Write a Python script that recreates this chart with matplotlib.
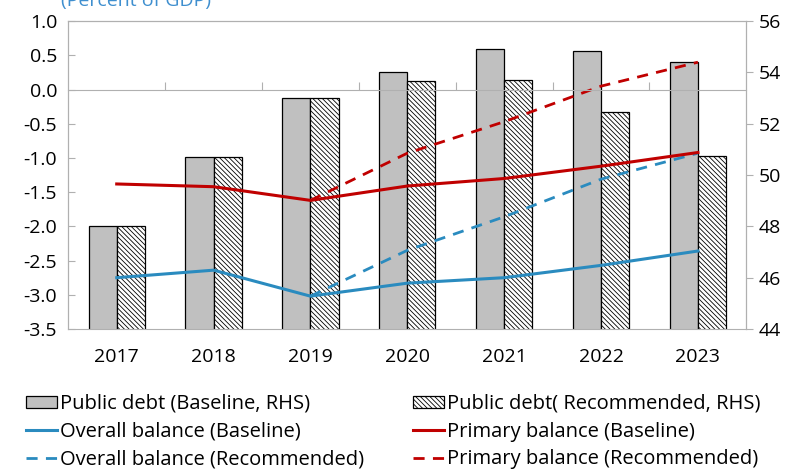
import matplotlib
matplotlib.use("Agg")
import matplotlib.pyplot as plt
import numpy as np

plt.rcParams['font.family'] = ['Open Sans', 'DejaVu Sans']
plt.rcParams['hatch.color'] = '#b4b4b4'
plt.rcParams['hatch.linewidth'] = 0.6

years = ['2017', '2018', '2019', '2020', '2021', '2022', '2023']
debt_base = [48.0, 50.7, 53.0, 54.0, 54.9, 54.85, 54.4]
debt_rec = [48.0, 50.7, 53.0, 53.65, 53.7, 52.45, 50.75]
overall_base = [-2.75, -2.64, -3.02, -2.83, -2.75, -2.57, -2.36]
primary_base = [-1.38, -1.42, -1.62, -1.41, -1.30, -1.12, -0.92]
# recommended paths start from 2019
overall_rec = [None, None, -3.02, -2.35, -1.86, -1.31, -0.93]
primary_rec = [None, None, -1.62, -0.93, -0.47, 0.05, 0.40]

BLUE = '#2a8bbf'
RED = '#c00000'
GRID = '#b0b0b0'

fig = plt.figure(figsize=(7.94, 4.70), dpi=100)
rect = [0.086, 0.30, 0.854, 0.655]
ax = fig.add_axes(rect)                 # bars, right scale
axl = fig.add_axes(rect)                # lines, left scale (drawn on top)
axl.patch.set_visible(False)

x = np.arange(len(years))
w = 0.29
ax.bar(x - w / 2, debt_base, w, color='#c0c0c0', edgecolor='black', linewidth=0.9,
       label='Public debt (Baseline, RHS)', zorder=2)
ax.bar(x + w / 2, debt_rec, w, color='white', edgecolor='black', linewidth=0.9,
       hatch='\\\\\\\\\\\\\\', label='Public debt( Recommended, RHS)', zorder=2)
ax.set_ylim(44, 56)
ax.set_xlim(-0.5, len(years) - 0.5)
ax.set_yticks(np.arange(44, 57, 2))
ax.yaxis.tick_right()
ax.set_xticks(x)
ax.set_xticklabels(years)
ax.tick_params(axis='x', length=0, pad=14, labelsize=14)
ax.tick_params(axis='y', direction='out', length=5, color=GRID, labelsize=14, pad=4)
for s in ax.spines.values():
    s.set_color(GRID)

ov_r = np.array([np.nan if v is None else v for v in overall_rec])
pr_r = np.array([np.nan if v is None else v for v in primary_rec])
l1, = axl.plot(x, overall_base, color=BLUE, lw=2.2, label='Overall balance (Baseline)')
l3, = axl.plot(x, ov_r, color=BLUE, lw=2.0, ls=(0, (4, 3)), label='Overall balance (Recommended)')
l2, = axl.plot(x, primary_base, color=RED, lw=2.2, label='Primary balance (Baseline)')
l4, = axl.plot(x, pr_r, color=RED, lw=2.0, ls=(0, (4, 3)), label='Primary balance (Recommended)')
axl.set_xlim(-0.5, len(years) - 0.5)
axl.set_ylim(-3.5, 1.0)
yt = np.arange(-3.5, 1.01, 0.5)
axl.set_yticks(yt)
axl.set_yticklabels(['%.1f' % v for v in yt])
axl.tick_params(axis='y', direction='in', length=5, color=GRID, labelsize=14, pad=8)
axl.spines['bottom'].set_position(('data', 0))
axl.spines['bottom'].set_color(GRID)
axl.set_xticks(np.arange(0.5, len(years) - 0.5, 1.0))
axl.tick_params(axis='x', direction='in', length=6, color=GRID, labelbottom=False)
for k in ['top', 'left', 'right']:
    axl.spines[k].set_color(GRID)

fig.text(0.077, 1 - 6 / 470, '(Percent of GDP)', color='#3f8fcf', fontsize=14, va='baseline')

hb, lb = ax.get_legend_handles_labels()
handles = [hb[0], l1, l3, hb[1], l2, l4]
labels = [h.get_label() for h in handles]
fig.legend(handles, labels, ncol=2, loc='upper left', bbox_to_anchor=(0.033, 0.162),
           frameon=False, fontsize=14.5, borderpad=0,
           handlelength=1.55, handleheight=0.55, handletextpad=0.15,
           columnspacing=2.4, labelspacing=0.38, borderaxespad=0)

fig.savefig('out.png', dpi=100)
